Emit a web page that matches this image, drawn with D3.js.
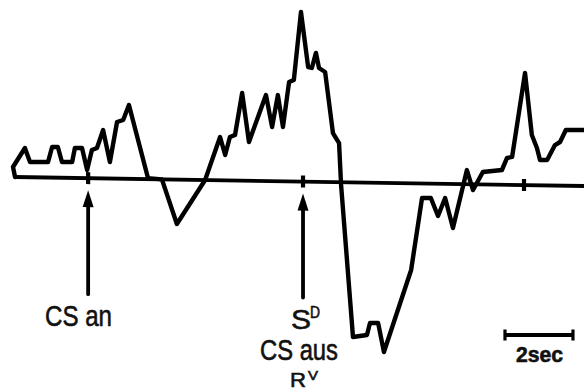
<!DOCTYPE html>
<html>
<head>
<meta charset="utf-8">
<script src="https://cdn.jsdelivr.net/npm/d3@7"></script>
<style>
  html, body { margin: 0; padding: 0; background: #fff; }
  svg { display: block; }
  text { font-family: "Liberation Sans", Arial, Helvetica, sans-serif; fill: #111; stroke: #111; stroke-width: 0.6; }
</style>
</head>
<body>
<svg id="chart" width="584" height="392"></svg>
<script>
// time (s) of each sample point of the recorded trace
const traceTime = [0.06, 0.00, 0.35, 0.50, 1.03, 1.15, 1.32, 1.44, 1.74, 1.82,
  2.03, 2.18, 2.32, 2.47, 2.65, 2.85, 3.06, 3.24, 3.41, 3.97,
  4.38, 4.82, 5.65, 6.09, 6.24, 6.38, 6.53, 6.74, 6.94, 7.44,
  7.62, 7.79, 7.94, 8.12, 8.26, 8.47, 8.68, 8.79, 8.91, 9.00,
  9.18, 9.41, 9.59, 9.65, 10.00, 10.41, 10.50, 10.74, 10.91, 11.71,
  12.03, 12.29, 12.50, 12.71, 12.94, 13.35, 13.53, 13.82, 14.38, 14.53,
  14.68, 15.06, 15.26, 15.41, 15.50, 15.71, 15.94, 16.09, 16.26, 16.79];
// amplitude (arbitrary units, 0 = baseline)
const traceValue = [0.0, 1.0, 2.92, 1.52, 1.55, 3.06, 3.07, 1.57, 1.59, 3.00,
  3.01, 0.81, 2.82, 3.03, 4.84, 1.65, 5.66, 5.87, 7.38, 0.1,
  0.0, -4.44, 0.0, 4.32, 2.53, 4.34, 4.55, 8.76, 3.87, 8.60,
  5.41, 8.61, 5.42, 9.93, 10.14, 16.95, 11.46, 11.37, 12.88, 11.38,
  10.99, 4.90, 3.91, -0.29, -15.47, -15.24, -14.04, -14.03, -16.92, -8.67,
  -1.46, -1.44, -3.23, -1.42, -4.41, 1.41, -0.58, 1.24, 1.47, 2.68,
  2.79, 11.21, 5.02, 3.73, 2.53, 2.54, 4.05, 4.36, 5.57, 5.60];
// event marks on the baseline (s)
const tickTimes = [2.21, 8.53, 15.03];
// arrows: events with labels
const arrowTimes = [2.21, 8.53];
const baselineRange = [0.06, 16.9];
const scaleBarStart = 14.47;
const scaleBarLength = 2;
const scaleBarLabel = "2sec";

const svg = d3.select("#chart");
svg.append("rect").attr("width", 584).attr("height", 392).attr("fill", "#fff");

const x = d3.scaleLinear().domain([0, 17]).range([13, 591]);
const y = d3.scaleLinear().domain([-20, 20]).range([377, -23]);

// the scanned record is slightly tilted: shear the plotting group
const k = 0.0158;
const g = svg.append("g")
  .attr("transform", `matrix(1,${k},0,1,0,${-15 * k})`);

// baseline
g.append("line")
  .attr("x1", x(baselineRange[0])).attr("x2", x(baselineRange[1]))
  .attr("y1", y(0)).attr("y2", y(0))
  .attr("stroke", "#000").attr("stroke-width", 3.8);

// event ticks on baseline
g.selectAll("line.tick").data(tickTimes).join("line")
  .attr("class", "tick")
  .attr("x1", d => x(d)).attr("x2", d => x(d))
  .attr("y1", y(0.6)).attr("y2", y(-0.6))
  .attr("stroke", "#000").attr("stroke-width", 4.2);

// trace
const pts = traceTime.map((t, i) => [t, traceValue[i]]);
g.append("path")
  .datum(pts)
  .attr("fill", "none")
  .attr("stroke", "#000")
  .attr("stroke-width", 4.4)
  .attr("stroke-linejoin", "round")
  .attr("stroke-linecap", "round")
  .attr("d", d3.line().x(d => x(d[0])).y(d => y(d[1])));

// arrows
arrowTimes.forEach(t => {
  const cx = x(t);
  const tip = y(-1.2), base = y(-2.9), end = y(-11.6);
  g.append("line")
    .attr("x1", cx).attr("x2", cx).attr("y1", base - 1).attr("y2", end)
    .attr("stroke", "#000").attr("stroke-width", 3.8).attr("stroke-linecap", "round");
  g.append("path")
    .attr("d", `M${cx},${tip} L${cx - 5.5},${base} L${cx + 5.5},${base} Z`)
    .attr("fill", "#000");
});

// scale bar
const sb = svg.append("g");
const sx1 = x(scaleBarStart), sx2 = x(scaleBarStart + scaleBarLength);
sb.append("line").attr("x1", sx1).attr("x2", sx2).attr("y1", 335).attr("y2", 335)
  .attr("stroke", "#000").attr("stroke-width", 4);
[sx1, sx2].forEach(sx => sb.append("line")
  .attr("x1", sx).attr("x2", sx).attr("y1", 329.5).attr("y2", 340.5)
  .attr("stroke", "#000").attr("stroke-width", 3.2));
sb.append("text").attr("x", 516).attr("y", 362)
  .attr("font-size", 22).attr("font-weight", "bold")
  .attr("textLength", 47).attr("lengthAdjust", "spacingAndGlyphs")
  .text(scaleBarLabel);

// labels
function label(txt, lx, ly, size, len) {
  const t = svg.append("text").attr("x", lx).attr("y", ly)
    .attr("font-size", size).text(txt);
  if (len) t.attr("textLength", len).attr("lengthAdjust", "spacingAndGlyphs");
  return t;
}
label("CS an", 45, 325.5, 30, 67);
label("S", 291, 329, 28, 20);
label("D", 310, 318, 16, 10);
label("CS aus", 260, 360, 29, 78);
label("R", 290, 387, 21, 16);
label("V", 308, 380, 13, 10);
</script>
</body>
</html>
